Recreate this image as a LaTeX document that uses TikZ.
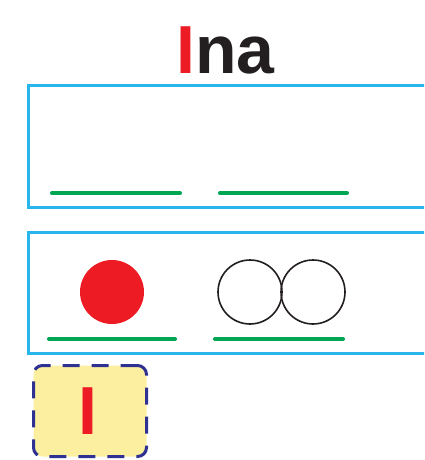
\documentclass[tikz,border=0pt]{standalone}
\usepackage{fontspec}
\setmainfont{Liberation Sans}
\usepackage{tikz}

\definecolor{inared}{RGB}{237,28,36}
\definecolor{inablue}{RGB}{41,182,236}
\definecolor{inagreen}{RGB}{0,166,81}
\definecolor{inanavy}{RGB}{46,49,146}
\definecolor{inayellow}{RGB}{252,240,160}
\definecolor{inaink}{RGB}{35,31,32}

\begin{document}
\begin{tikzpicture}[x=1pt,y=-1pt,
  frame/.style={draw=inablue,line width=3pt},
  slot/.style={draw=inagreen,line width=4pt,line cap=round},
  bead/.style={circle,minimum size=64pt,inner sep=0pt},
  big/.style={font=\fontsize{68}{68}\bfseries\selectfont,inner sep=0pt}]
\useasboundingbox (0,0) rectangle (424,460);
\clip (0,0) rectangle (424,460);
\fill[white] (0,0) rectangle (424,460);
% title
\node[big,anchor=base west,text=inaink] (title) at (176,74) {\textcolor{inared}{I}na};
% upper box, empty slots
\draw[frame] (28,85) rectangle (440,207);
\draw[slot] (52,193) -- (180,193);
\draw[slot] (220,193) -- (347,193);
% lower box, sounds
\draw[frame] (28,232) rectangle (440,353);
\node[bead,fill=inared] (dot) at (112,292) {};
\node[bead,draw=inaink,line width=1.6pt] (ringA) at (250,292) {};
\node[bead,draw=inaink,line width=1.6pt] (ringB) at (313,292) {};
\draw[slot] (49,339) -- (175,339);
\draw[slot] (215,339) -- (343,339);
% letter card
\node[big,draw=inanavy,fill=inayellow,line width=3pt,rounded corners=9pt,
  dash pattern=on 17pt off 12pt,minimum width=113pt,minimum height=91pt,
  text=inared,text depth=0pt] (card) at (90,411) {\hspace*{-5pt}I};
\end{tikzpicture}
\end{document}
